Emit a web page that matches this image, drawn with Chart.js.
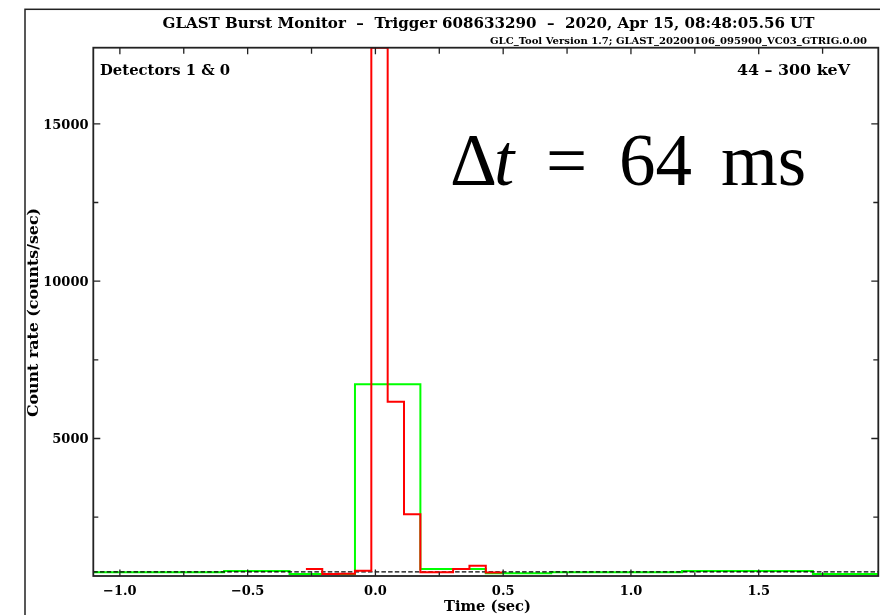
<!DOCTYPE html>
<html>
<head>
<meta charset="utf-8">
<script src="https://cdn.jsdelivr.net/npm/chart.js@4.4.1/dist/chart.umd.min.js"></script>
<style>
  html, body { margin: 0; padding: 0; background: #fff; }
  canvas { display: block; }
</style>
</head>
<body>
<canvas id="lc" width="880" height="615"></canvas>
<script>
// GBM trigger light curve, detectors 1 & 0, 44-300 keV
// 64 ms bins (red) around the trigger time
const redEdges = [-0.272, -0.208, -0.144, -0.080, -0.016, 0.048, 0.112, 0.176, 0.240, 0.304, 0.368, 0.432, 0.496];
const redRate  = [852, 694, 700, 798, 17420, 6169, 2591, 748, 748, 852, 957, 740];

// 256 ms bins (green) over the whole window
const greenEdges = [-1.104, -0.848, -0.592, -0.336, -0.080, 0.176, 0.432, 0.688, 0.944, 1.200, 1.456, 1.712, 1.968];
const greenRate  = [748, 748, 789, 694, 6722, 852, 716, 748, 748, 789, 789, 694];

// background level (dashed)
const backgroundRate = 760;

// axes
const xRange = [-1.104, 1.968];
const yRange = [630, 17420];
const xTicksMajor = [-1.0, -0.5, 0.0, 0.5, 1.0, 1.5];
const xTickLabels = ['\u22121.0', '\u22120.5', '0.0', '0.5', '1.0', '1.5'];
const xTicksMinor = [-0.75, -0.25, 0.25, 0.75, 1.25, 1.75];
const yTicksMajor = [5000, 10000, 15000];
const yTickLabels = ['5000', '10000', '15000'];
const yTicksMinor = [2500, 7500, 12500];

// histogram outline: one point per bin start plus the closing edge
function stepPoints(edges, rates) {
  const pts = rates.map((r, i) => ({ x: edges[i], y: r }));
  pts.push({ x: edges[edges.length - 1], y: rates[rates.length - 1] });
  return pts;
}

const SERIF = '"DejaVu Serif", "Liberation Serif", serif';

// bold serif text squeezed/stretched to a given width
function fitText(ctx, text, x, y, width, size, align) {
  ctx.font = 'bold ' + size + 'px ' + SERIF;
  const w = ctx.measureText(text).width;
  const left = align === 'center' ? x - width / 2 : (align === 'right' ? x - width : x);
  ctx.save();
  ctx.translate(left, y);
  ctx.scale(width / w, 1);
  ctx.textAlign = 'left';
  ctx.textBaseline = 'alphabetic';
  ctx.fillText(text, 0, 0);
  ctx.restore();
}

const gbmFrame = {
  id: 'gbmFrame',
  afterDraw(chart) {
    const ctx = chart.ctx;
    const a = chart.chartArea;
    const xs = chart.scales.x, ys = chart.scales.y;
    ctx.save();
    ctx.fillStyle = '#000';

    // page border
    ctx.strokeStyle = '#222';
    ctx.lineWidth = 1.5;
    ctx.strokeRect(25, 9.3, 900, 700);

    // plot frame
    ctx.lineWidth = 1.8;
    ctx.strokeStyle = '#222';
    ctx.strokeRect(a.left, a.top, a.right - a.left, a.bottom - a.top);

    // ticks, drawn inward on all four sides
    ctx.lineWidth = 1.3;
    ctx.beginPath();
    const xt = (v, lenTop, lenBot) => {
      const px = xs.getPixelForValue(v);
      ctx.moveTo(px, a.bottom); ctx.lineTo(px, a.bottom - lenBot);
      ctx.moveTo(px, a.top); ctx.lineTo(px, a.top + lenTop);
    };
    xTicksMajor.forEach(v => xt(v, 6.5, 6.5));
    xTicksMinor.forEach(v => xt(v, 6, 3.8));
    const yt = (v, len) => {
      const py = ys.getPixelForValue(v);
      ctx.moveTo(a.left, py); ctx.lineTo(a.left + len, py);
      ctx.moveTo(a.right, py); ctx.lineTo(a.right - len, py);
    };
    yTicksMajor.forEach(v => yt(v, 7));
    yTicksMinor.forEach(v => yt(v, 5));
    ctx.stroke();

    // tick labels
    ctx.font = 'bold 13px ' + SERIF;
    ctx.textBaseline = 'alphabetic';
    ctx.textAlign = 'center';
    xTicksMajor.forEach((v, i) => {
      ctx.fillText(xTickLabels[i], xs.getPixelForValue(v), 594.5);
    });
    ctx.textAlign = 'right';
    yTicksMajor.forEach((v, i) => {
      ctx.fillText(yTickLabels[i], 88.5, ys.getPixelForValue(v) + 4.8);
    });

    // axis titles
    fitText(ctx, 'Time (sec)', 487.5, 610.5, 87, 14, 'center');
    ctx.save();
    ctx.translate(37.5, 312.5);
    ctx.rotate(-Math.PI / 2);
    fitText(ctx, 'Count rate (counts/sec)', 0, 0, 209, 14, 'center');
    ctx.restore();

    // header
    fitText(ctx, 'GLAST Burst Monitor  \u2013  Trigger 608633290  \u2013  2020, Apr 15, 08:48:05.56 UT',
            162.5, 27.5, 652, 14, 'left');
    fitText(ctx, 'GLC_Tool Version 1.7; GLAST_20200106_095900_VC03_GTRIG.0.00',
            867, 43.5, 377, 8.5, 'right');

    // in-plot annotations
    fitText(ctx, 'Detectors 1 & 0', 100, 75, 130, 14, 'left');
    fitText(ctx, '44 \u2013 300 keV', 850, 74.5, 113, 14, 'right');

    // bin width label
    const big = '"Liberation Serif", "Times New Roman", serif';
    ctx.textAlign = 'left';
    ctx.font = '73px ' + big;
    ctx.fillText('\u0394', 450, 185);
    ctx.font = 'italic 73px ' + big;
    ctx.fillText('t', 494, 185);
    ctx.font = '73px ' + big;
    ctx.fillText('=', 546, 185);
    ctx.fillText('64', 619, 185);
    ctx.fillText('ms', 721, 185);

    ctx.restore();
  }
};

new Chart(document.getElementById('lc'), {
  type: 'line',
  data: {
    datasets: [
      {
        label: '64 ms',
        data: stepPoints(redEdges, redRate),
        stepped: 'before',
        borderColor: 'rgb(255,0,0)',
        borderWidth: 2,
        pointRadius: 0,
        fill: false
      },
      {
        label: 'background',
        data: [{ x: xRange[0], y: backgroundRate }, { x: xRange[1], y: backgroundRate }],
        borderColor: '#000',
        borderWidth: 1.2,
        borderDash: [4.5, 2.2],
        pointRadius: 0,
        fill: false
      },
      {
        label: '256 ms',
        data: stepPoints(greenEdges, greenRate),
        stepped: 'before',
        borderColor: 'rgb(0,255,0)',
        borderWidth: 2,
        pointRadius: 0,
        fill: false
      }
    ]
  },
  options: {
    responsive: false,
    devicePixelRatio: 1,
    animation: false,
    layout: { padding: { left: 93.3, right: 1.7, top: 47.7, bottom: 39 } },
    plugins: { legend: { display: false }, tooltip: { enabled: false }, title: { display: false } },
    scales: {
      x: { type: 'linear', min: xRange[0], max: xRange[1], display: false },
      y: { type: 'linear', min: yRange[0], max: yRange[1], display: false }
    }
  },
  plugins: [gbmFrame]
});
</script>
</body>
</html>
